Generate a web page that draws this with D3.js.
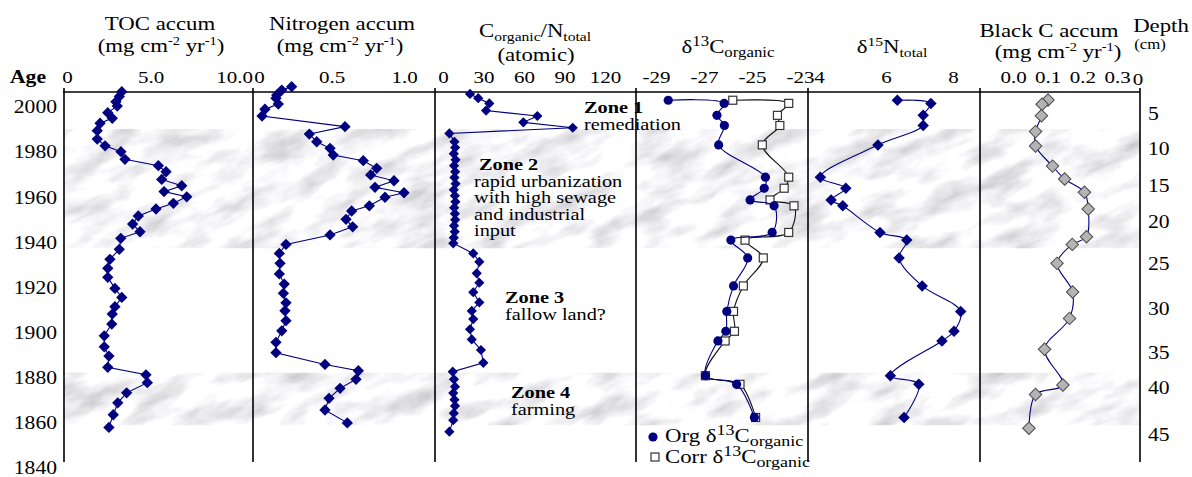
<!DOCTYPE html>
<html lang="en">
<head>
<meta charset="utf-8">
<title>Sediment core profiles</title>
<script src="https://d3js.org/d3.v7.min.js"></script>
<style>
  body { margin: 0; background: #fff; }
  svg text { font-family: "Liberation Serif", "Times New Roman", Times, serif; fill: #000; }
  .frame { stroke: #000; stroke-width: 1.6px; fill: none; }
  .series { fill: none; stroke: #000080; stroke-width: 1.1px; }
  .corr-line { fill: none; stroke: #111; stroke-width: 1.1px; }
</style>
</head>
<body>
<svg id="chart" width="1192" height="477"></svg>
<script>
// ---- data ----
var ageTicks = [2000, 1980, 1960, 1940, 1920, 1900, 1880, 1860, 1840];
var depthTicks = [5, 10, 15, 20, 25, 30, 35, 40, 45];
var depthTickAges = [1996.9, 1981.4, 1965.0, 1949.0, 1930.4, 1910.5, 1890.9, 1875.4, 1854.6];
var zoneBands = [[1990.2, 1937.4], [1882.2, 1859.0]];

var tocAges = [2006.8,2004.6,2002.3,2000.4,1997.5,1995.0,1992.8,1989.5,1985.8,1982.8,
               1980.2,1976.8,1974.0,1971.3,1967.9,1965.1,1962.5,1960.2,1957.3,1954.8,
               1951.7,1948.1,1944.7,1941.8,1936.9,1932.5,1928.5,1924.5,1919.6,1915.6,
               1911.5,1908.2,1903.8,1898.6,1893.7,1889.6,1884.6,1881.3,1877.8,1873.3,
               1868.9,1863.6,1858.0];
var tocValues = [3.28,3.13,2.93,3.01,2.44,2.71,1.98,1.81,1.81,2.28,
                 3.23,3.47,5.47,5.93,5.67,6.87,5.81,7.17,6.37,5.33,
                 4.27,3.93,4.37,3.22,3.13,2.57,2.44,2.44,2.87,3.28,
                 2.87,2.71,2.68,2.23,2.23,2.51,2.44,4.73,4.81,3.57,
                 3.04,2.77,2.51];

var nAges = [2009.0,2007.5,2005.3,2003.9,2001.3,1999.0,1996.0,1991.3,1988.0,1984.6,
             1981.7,1978.7,1976.2,1972.8,1969.9,1967.3,1964.4,1962.0,1960.0,1956.2,
             1953.9,1950.2,1946.9,1943.3,1939.1,1935.1,1930.7,1926.0,1921.5,1917.4,
             1913.2,1909.7,1905.3,1900.8,1895.7,1891.1,1885.9,1883.1,1879.3,1875.3,
             1870.9,1865.7,1860.0];
var nValues = [0.225,0.157,0.122,0.117,0.133,0.041,0.021,0.593,0.347,0.398,
               0.490,0.512,0.719,0.812,0.770,0.931,0.800,1.000,0.869,0.761,
               0.639,0.600,0.646,0.490,0.186,0.140,0.145,0.140,0.174,0.168,
               0.186,0.179,0.186,0.157,0.117,0.117,0.455,0.685,0.669,0.559,
               0.483,0.455,0.609];

var cnAges = [2005.8,2003.9,2001.6,1998.4,1996.0,1993.2,1990.8,1988.3,
              1984.6,1982.0,1979.3,1976.6,1974.0,1971.3,1968.7,1966.0,1963.3,1960.7,
              1958.0,1955.4,1952.7,1950.0,1947.4,1944.7,1942.1,1939.6,
              1935.1,1931.4,1926.3,1922.1,1917.9,1913.4,1909.6,1906.0,1901.5,1897.0,1892.3,1886.6,
              1882.7,1879.3,1876.0,1873.2,1870.3,1867.5,1864.3,1861.2,1856.1];
var cnValues = [20.0,26.1,34.3,31.9,69.9,59.5,96.1,4.7,
                8.5,9.0,8.0,9.3,8.2,9.0,8.5,9.3,8.0,8.8,
                9.2,8.3,8.8,9.0,8.2,8.7,8.0,7.6,
                22.4,26.9,25.0,26.9,22.4,26.9,21.3,22.4,20.0,21.3,28.1,29.9,
                7.2,8.1,8.9,7.6,8.5,8.9,8.0,7.6,4.7];

var isoAges = [2003.0,2001.6,1996.3,1991.8,1983.2,1968.9,1964.0,1958.8,1956.2,1944.4,
               1941.0,1933.1,1920.7,1909.4,1900.6,1896.3,1880.9,1877.1,1862.4];
var orgD13C = [-28.49,-26.16,-26.46,-26.15,-26.39,-24.44,-24.49,-25.08,-24.08,-24.16,
               -25.88,-25.18,-25.77,-26.05,-26.09,-26.42,-26.94,-25.64,-24.90];
var corrD13C = [-25.80,-23.47,-23.94,-23.84,-24.57,-23.47,-23.66,-24.25,-23.25,-23.47,
                -25.29,-24.53,-25.36,-25.77,-25.73,-26.12,-26.94,-25.50,-24.85];
var d15N = [6.34,7.34,7.11,7.11,5.76,4.04,4.80,4.36,4.71,5.82,
            6.62,6.39,7.08,8.23,8.03,7.67,6.13,6.98,6.54];

var bcAges = [2003.1,2001.2,1996.1,1989.1,1982.7,1973.8,1968.1,1962.2,1954.8,1942.5,
              1939.1,1930.7,1918.0,1906.3,1892.6,1876.8,1872.6,1857.6];
var bcValues = [0.101,0.084,0.082,0.065,0.065,0.114,0.149,0.206,0.217,0.212,
                0.171,0.127,0.172,0.163,0.091,0.144,0.065,0.046];

// ---- layout ----
var SX = 1.2;   // the original figure is stretched sideways
var svg = d3.select("#chart");
var y = d3.scaleLinear().domain([2000, 1840]).range([107, 468]);
var plotTop = 92, plotBottom = 462, bandLeft = 63, bandRight = 1140;

function zip(a, b) { return a.map(function(d, i) { return {age: d, v: b[i]}; }); }
function fmt1(d) { return d === 0 ? "0" : d3.format(".1f")(d); }
function plain(d) { return String(d); }   // keeps the hyphen minus of the original

var panels = {
  toc: {x: d3.scaleLinear().domain([0, 10]).range([67, 234]),      ticks: [0, 5, 10],           fmt: fmt1},
  n:   {x: d3.scaleLinear().domain([0, 1]).range([259, 404]),      ticks: [0, 0.5, 1],          fmt: fmt1},
  cn:  {x: d3.scaleLinear().domain([0, 120]).range([443, 605]),    ticks: [0, 30, 60, 90, 120], fmt: plain},
  c13: {x: d3.scaleLinear().domain([-29, -23]).range([656, 800]),  ticks: [-29, -27, -25, -23], fmt: plain},
  n15: {x: d3.scaleLinear().domain([4, 8]).range([819, 953]),      ticks: [4, 6, 8],            fmt: plain},
  bc:  {x: d3.scaleLinear().domain([0, 0.3]).range([1013, 1117]),  ticks: [0, 0.1, 0.2, 0.3],   fmt: d3.format(".1f")}
};

// marble texture for the zone bands
var defs = svg.append("defs");
var marble = defs.append("filter").attr("id", "marble")
    .attr("x", 0).attr("y", 0).attr("width", "100%").attr("height", "100%");
marble.append("feTurbulence")
    .attr("type", "fractalNoise").attr("baseFrequency", "0.02 0.05")
    .attr("numOctaves", 4).attr("seed", 11);
marble.append("feColorMatrix").attr("type", "matrix")
    .attr("values", "0.85 0 0 0 0.50  0.85 0 0 0 0.50  0.85 0 0 0 0.525  0 0 0 0 1");

zoneBands.forEach(function(b, i) {
  var y0 = y(b[0]), y1 = y(b[1]);
  defs.append("clipPath").attr("id", "band" + i)
    .append("rect").attr("x", bandLeft).attr("y", y0)
    .attr("width", bandRight - bandLeft).attr("height", y1 - y0);
  svg.append("g").attr("clip-path", "url(#band" + i + ")")
    .append("rect")
      .attr("x", bandLeft - 300).attr("y", y0 - 300)
      .attr("width", bandRight - bandLeft + 600).attr("height", y1 - y0 + 600)
      .attr("transform", "rotate(-22," + (bandLeft + bandRight) / 2 + "," + (y0 + y1) / 2 + ")")
      .attr("filter", "url(#marble)");
});

// frame lines
svg.append("line").attr("class", "frame")
    .attr("x1", bandLeft).attr("x2", bandRight).attr("y1", plotTop).attr("y2", plotTop);
var edges = [64, 253, 435, 636, 808, 980, 1140];
svg.selectAll(".edge").data(edges).enter().append("line")
    .attr("class", "frame edge")
    .attr("x1", function(d) { return d; }).attr("x2", function(d) { return d; })
    .attr("y1", plotTop - 4).attr("y2", plotBottom);

function styleAxis(ax, size) {
  ax.attr("font-family", null).attr("font-size", null);
  ax.select(".domain").remove();
  ax.selectAll("text").attr("font-size", size).attr("transform", "scale(" + SX + ",1)");
}

// top tick labels
Object.keys(panels).forEach(function(k) {
  var p = panels[k];
  var ax = svg.append("g").attr("transform", "translate(0,83)")
    .call(d3.axisTop(p.x).tickValues(p.ticks).tickFormat(p.fmt).tickSize(0).tickPadding(0));
  styleAxis(ax, 17.5);
});

// age axis (left)
var ageAx = svg.append("g").attr("transform", "translate(57,0)")
  .call(d3.axisLeft(y).tickValues(ageTicks).tickFormat(plain).tickSize(0).tickPadding(0));
styleAxis(ageAx, 18);

// depth axis (right)
var depthY = d3.scaleLinear().domain(depthTicks).range(depthTickAges.map(y));
var depthAx = svg.append("g").attr("transform", "translate(1148,0)")
  .call(d3.axisRight(depthY).tickValues(depthTicks).tickFormat(plain).tickSize(0).tickPadding(0));
styleAxis(depthAx, 18);

// ---- series ----
var diamond = d3.symbol().type(d3.symbolSquare);

function profile(p, data, opts) {
  var g = svg.append("g");
  var line = d3.line().x(function(d) { return p.x(d.v); }).y(function(d) { return y(d.age); });
  if (opts.curve) line.curve(opts.curve);
  g.append("path").datum(data).attr("class", opts.lineClass || "series").attr("d", line);
  var m = g.selectAll(".m").data(data).enter();
  if (opts.mark === "circle") {
    m.append("circle").attr("cx", function(d) { return p.x(d.v); }).attr("cy", function(d) { return y(d.age); })
      .attr("r", 4.6).attr("fill", "#000080");
  } else if (opts.mark === "square") {
    m.append("rect").attr("x", function(d) { return p.x(d.v) - 4; }).attr("y", function(d) { return y(d.age) - 4; })
      .attr("width", 8).attr("height", 8).attr("fill", "#fff").attr("stroke", "#333").attr("stroke-width", 1.2);
  } else {
    m.append("path").attr("d", diamond.size(opts.size || 64)())
      .attr("transform", function(d) { return "translate(" + p.x(d.v) + "," + y(d.age) + ") rotate(45)"; })
      .attr("fill", opts.fill || "#000080")
      .attr("stroke", opts.stroke || "none").attr("stroke-width", 1);
  }
}

var smooth = d3.curveCatmullRom.alpha(0.5);
profile(panels.toc, zip(tocAges, tocValues), {size: 64});
profile(panels.n, zip(nAges, nValues), {size: 64});
profile(panels.cn, zip(cnAges, cnValues), {size: 52});
profile(panels.c13, zip(isoAges, corrD13C), {mark: "square", curve: smooth, lineClass: "corr-line"});
profile(panels.c13, zip(isoAges, orgD13C), {mark: "circle", curve: smooth});
profile(panels.n15, zip(isoAges, d15N), {size: 66, curve: smooth});
profile(panels.bc, zip(bcAges, bcValues), {size: 78, curve: smooth, fill: "#b4b4b4", stroke: "#4a4a4a"});

// ---- text ----
// parts: [string, baseline shift (negative = up), font size]
function rich(x, yy, anchor, size, parts, weight) {
  var t = svg.append("text")
    .attr("transform", "translate(" + x + "," + yy + ") scale(" + SX + ",1)")
    .attr("text-anchor", anchor).attr("font-size", size).attr("font-weight", weight || "normal");
  var cur = 0;
  parts.forEach(function(p) {
    var shift = p[1] || 0;
    t.append("tspan").attr("dy", shift - cur).attr("font-size", p[2] || size).text(p[0]);
    cur = shift;
  });
  return t;
}
function txt(x, yy, anchor, size, s, weight) { return rich(x, yy, anchor, size, [[s]], weight); }
function units(x, yy) {
  rich(x, yy, "middle", 19, [["(mg cm"], ["-2", -7, 12], [" yr"], ["-1", -7, 12], [")"]]);
}

txt(10, 83, "start", 18, "Age", "bold");
txt(160, 30, "middle", 19, "TOC accum");
units(161, 52);
txt(342, 30, "middle", 19, "Nitrogen accum");
units(340, 52);
rich(535, 37, "middle", 19, [["C"], ["organic", 4, 13], ["/N"], ["total", 4, 13]]);
txt(536, 61, "middle", 19, "(atomic)");
rich(728, 53, "middle", 19, [["\u03b4"], ["13", -7, 14], ["C"], ["organic", 4, 14]]);
rich(892, 53, "middle", 19, [["\u03b4"], ["15", -7, 13], ["N"], ["total", 4, 13]]);
txt(1049, 37, "middle", 19, "Black C accum");
units(1058, 58);
txt(1161, 32, "middle", 19, "Depth");
txt(1150, 49, "middle", 14, "(cm)");
txt(1138, 85, "middle", 17.5, "0");

// zone notes
var zoneNotes = [
  {x: 584, y: 113, lines: ["Zone 1", "remediation"]},
  {x: 474, y: 170, lines: ["Zone 2", "rapid urbanization", "with high sewage", "and industrial", "input"]},
  {x: 505, y: 303, lines: ["Zone 3", "fallow land?"]},
  {x: 511, y: 398, lines: ["Zone 4", "farming"]}
];
zoneNotes.forEach(function(z) {
  z.lines.forEach(function(s, i) {
    var x0 = (i === 0 && z.lines.length > 2) ? z.x + 5 : z.x;
    var t = txt(x0, z.y + 16.6 * i, "start", 16, s, i === 0 ? "bold" : "normal");
    t.attr("transform", "translate(" + x0 + "," + (z.y + 16.6 * i) + ") scale(1.27,1)");
  });
});

// legend
svg.append("circle").attr("cx", 653).attr("cy", 437).attr("r", 4.6).attr("fill", "#000080");
rich(665, 442, "start", 19, [["Org \u03b4"], ["13", -7, 15], ["C"], ["organic", 4, 15]]);
svg.append("rect").attr("x", 651).attr("y", 453).attr("width", 8).attr("height", 8)
  .attr("fill", "#fff").attr("stroke", "#333").attr("stroke-width", 1.2);
rich(665, 463, "start", 19, [["Corr \u03b4"], ["13", -7, 15], ["C"], ["organic", 4, 15]]);
</script>
</body>
</html>
